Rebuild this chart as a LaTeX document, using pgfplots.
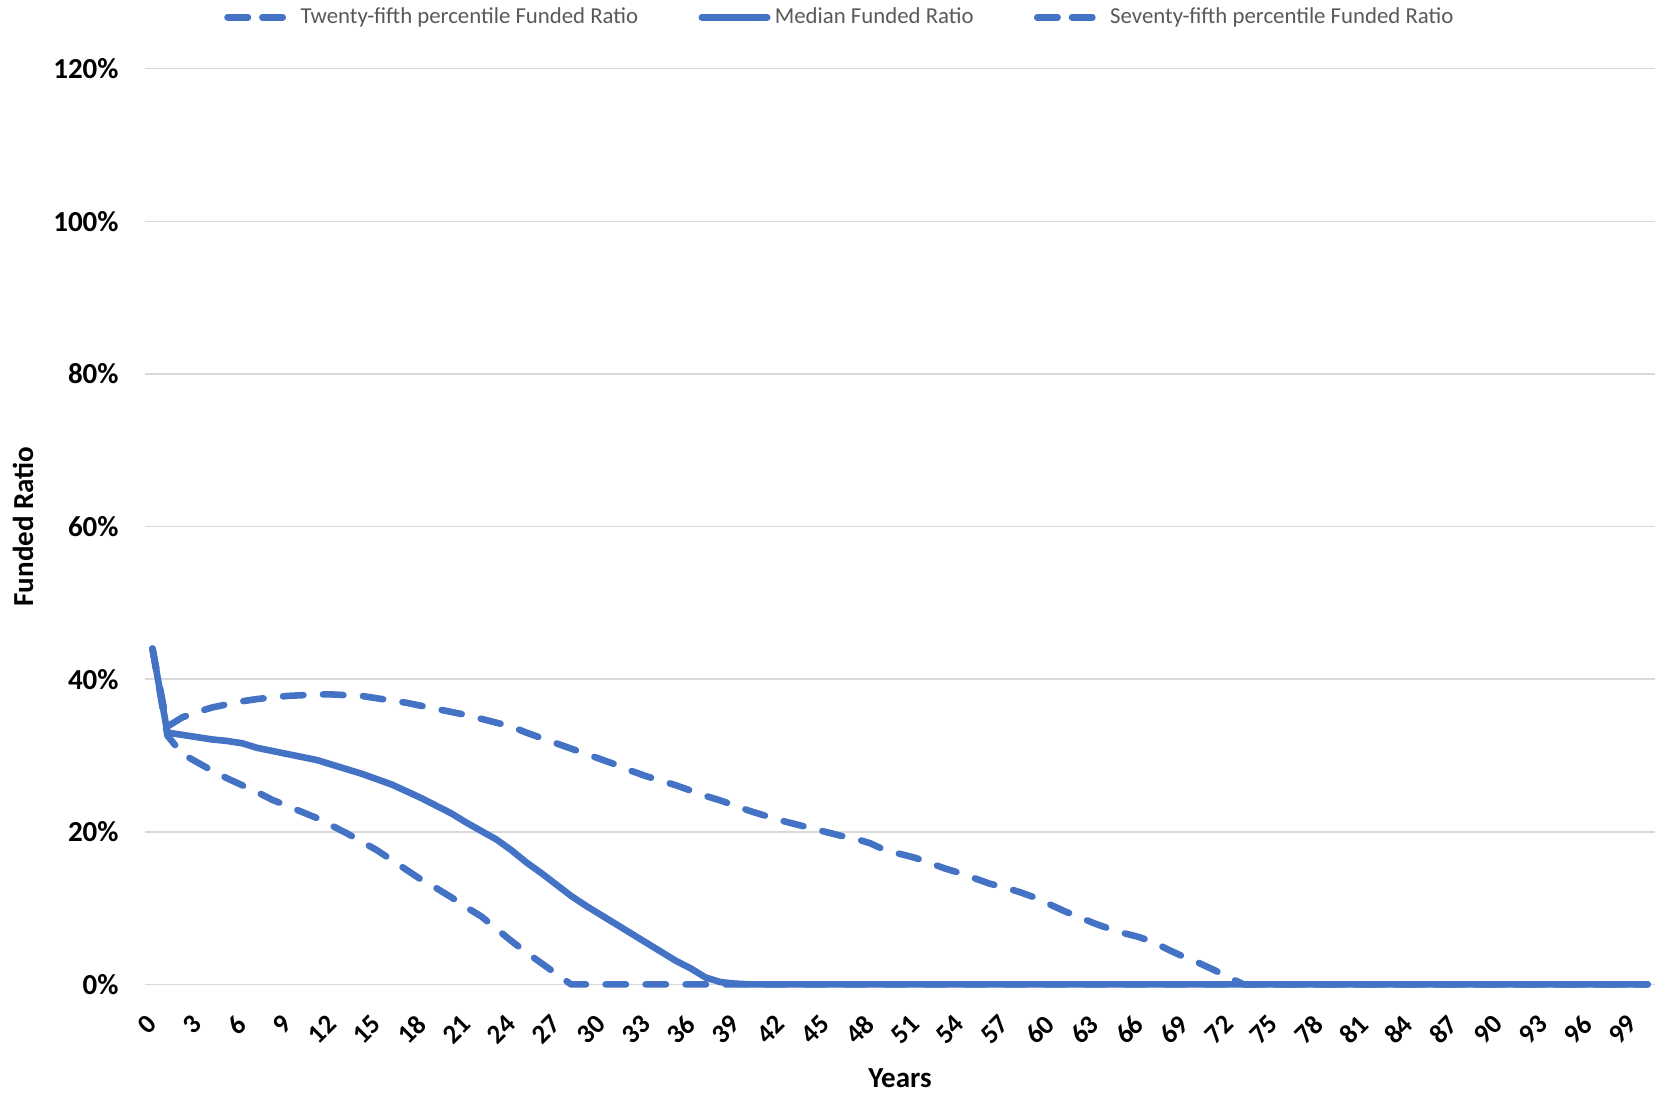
\documentclass[border=0pt]{standalone}
\usepackage{fontspec}
\setmainfont{Carlito}
\usepackage{pgfplots}
\usepackage{pgfplotstable}
\pgfplotsset{compat=1.18}

\definecolor{seriesblue}{HTML}{4472C4}
\definecolor{gridgray}{HTML}{D9D9D9}
\definecolor{legendgray}{HTML}{595959}

% Funded ratio (%) by projection year
\pgfplotstableread{
year p25 med p75
0 44.0 44.0 44.0
1 32.6 33.0 33.8
2 30.2 32.7 35.0
3 29.1 32.4 35.7
4 28.0 32.1 36.3
5 27.0 31.9 36.7
6 26.1 31.6 37.1
7 25.2 31.0 37.4
8 24.2 30.6 37.6
9 23.4 30.2 37.8
10 22.6 29.8 37.9
11 21.8 29.4 38.0
12 20.8 28.8 38.0
13 19.8 28.2 37.9
14 18.7 27.6 37.8
15 17.6 26.9 37.5
16 16.3 26.2 37.2
17 15.0 25.3 36.9
18 13.7 24.4 36.5
19 12.6 23.4 36.1
20 11.4 22.4 35.7
21 10.1 21.2 35.3
22 8.9 20.1 34.8
23 7.3 19.0 34.3
24 5.7 17.6 33.8
25 4.2 16.0 33.0
26 2.8 14.6 32.3
27 1.4 13.1 31.6
28 0 11.6 30.9
29 0 10.3 30.2
30 0 9.1 29.5
31 0 7.9 28.8
32 0 6.7 28.0
33 0 5.5 27.3
34 0 4.3 26.7
35 0 3.1 26.1
36 0 2.1 25.4
37 0 0.9 24.7
38 0 0.3 24.1
39 0 0.1 23.4
40 0 0 22.7
41 0 0 22.1
42 0 0 21.5
43 0 0 21.0
44 0 0 20.5
45 0 0 20.0
46 0 0 19.5
47 0 0 19.1
48 0 0 18.5
49 0 0 17.6
50 0 0 17.1
51 0 0 16.6
52 0 0 15.9
53 0 0 15.2
54 0 0 14.6
55 0 0 13.9
56 0 0 13.2
57 0 0 12.7
58 0 0 12.1
59 0 0 11.4
60 0 0 10.5
61 0 0 9.6
62 0 0 8.8
63 0 0 8.0
64 0 0 7.3
65 0 0 6.7
66 0 0 6.2
67 0 0 5.5
68 0 0 4.5
69 0 0 3.6
70 0 0 2.8
71 0 0 1.9
72 0 0 0.9
73 0 0 0
74 0 0 0
75 0 0 0
76 0 0 0
77 0 0 0
78 0 0 0
79 0 0 0
80 0 0 0
81 0 0 0
82 0 0 0
83 0 0 0
84 0 0 0
85 0 0 0
86 0 0 0
87 0 0 0
88 0 0 0
89 0 0 0
90 0 0 0
91 0 0 0
92 0 0 0
93 0 0 0
94 0 0 0
95 0 0 0
96 0 0 0
97 0 0 0
98 0 0 0
99 0 0 0
100 0 0 0
}\fundedtable

\pgfplotsset{
  dashed sample/.style={legend image code/.code={%
    \draw[##1, dash pattern=on 10.2pt off 7.2pt] (1.65pt,0pt) -- (29.25pt,0pt);
    \path (0pt,0pt) (36.5pt,0pt);}},
  solid sample/.style={legend image code/.code={%
    \draw[##1] (1.65pt,0pt) -- (34.35pt,0pt);
    \path (0pt,0pt) (36.5pt,0pt);}},
}

\begin{document}
\begin{tikzpicture}
\useasboundingbox (0,0) rectangle (829pt,547pt);
\begin{axis}[
  at={(72.5pt,54.8pt)}, anchor=south west,
  scale only axis, width=755pt, height=457.85pt,
  xmin=-0.5, xmax=100.5, ymin=0, ymax=120,
  xtick={0,3,...,99}, ytick={0,20,...,120},
  ymajorgrids, grid style={color=gridgray, line width=0.8pt},
  axis line style={draw=none},
  tick align=outside, major tick length=17.6pt, tick style={draw=none},
  clip=false,
  /pgf/number format/assume math mode=true,
  yticklabel={\pgfmathprintnumber{\tick}\%},
  ticklabel style={font=\bfseries\fontsize{14.5}{17}\selectfont, text=black},
  yticklabel style={anchor=east, xshift=7.9pt},
  xticklabel style={rotate=45, anchor=east, inner sep=0pt,
    font=\bfseries\fontsize{13.5}{16}\selectfont},
  xlabel={Years}, ylabel={Funded Ratio},
  label style={font=\bfseries\fontsize{14.5}{17}\selectfont},
  xlabel style={at={(axis description cs:0.5,-0.1027)}, anchor=center},
  ylabel style={at={(axis description cs:-0.0808,0.5)}, anchor=center},
  legend columns=3,
  legend style={draw=none, fill=none, inner sep=0pt, outer sep=0pt,
    at={(axis description cs:0.0503,1.0561)}, anchor=west,
    nodes={inner sep=0pt, outer sep=0pt},
    font=\fontsize{11.4}{13}\selectfont, text=legendgray,
    /tikz/every even column/.append style={column sep=28.5pt}},
  every axis plot/.append style={color=seriesblue, line width=3.3pt, line cap=round, line join=round},
]
\addplot[dash pattern=on 10.2pt off 9.8pt, dashed sample] table[x=year, y=p25] {\fundedtable};
\addlegendentry{Twenty-fifth percentile Funded Ratio}
\addplot[solid, solid sample] table[x=year, y=med] {\fundedtable};
\addlegendentry{Median Funded Ratio}
\addplot[dash pattern=on 10.2pt off 9.8pt, dashed sample] table[x=year, y=p75] {\fundedtable};
\addlegendentry{Seventy-fifth percentile Funded Ratio}
\end{axis}
\end{tikzpicture}
\end{document}
